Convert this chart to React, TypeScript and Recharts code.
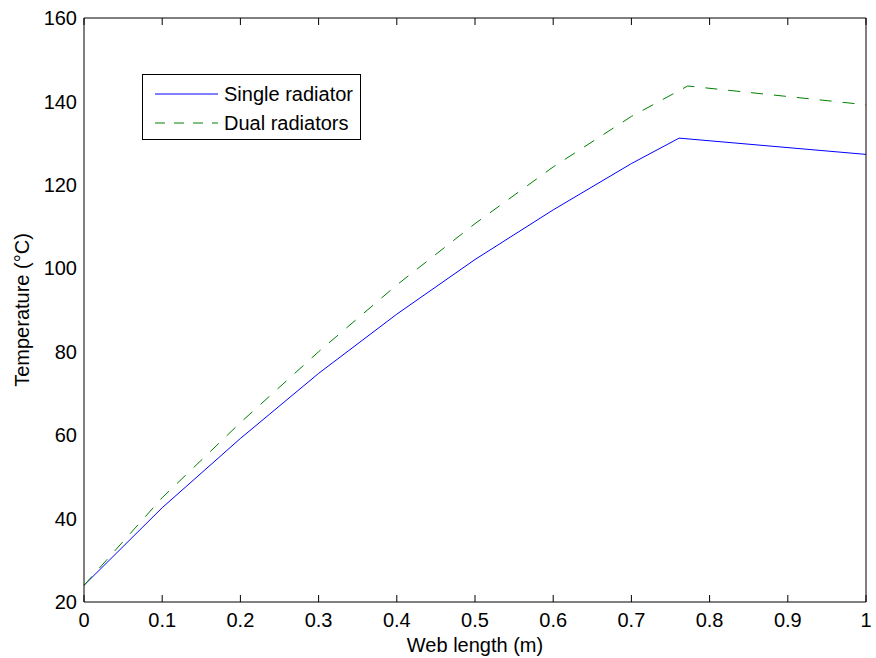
import React from "react";
import { LineChart, Line, XAxis, YAxis, Legend } from "recharts";

// web position (m) and temperature (°C)
const singleX = [0, 0.1, 0.2, 0.3, 0.4, 0.5, 0.6, 0.7, 0.761, 1];
const singleT = [24, 42.6, 59.2, 74.8, 89, 102.1, 114, 125.1, 131.2, 127.3];
const dualX = [0, 0.1, 0.2, 0.3, 0.4, 0.5, 0.6, 0.7, 0.772, 1];
const dualT = [24, 45, 63, 80, 96, 110.7, 124.3, 136.4, 143.7, 139.2];

const xTicks = [0, 0.1, 0.2, 0.3, 0.4, 0.5, 0.6, 0.7, 0.8, 0.9, 1];
const yTicks = [20, 40, 60, 80, 100, 120, 140, 160];

// one table for the chart, gaps bridged with connectNulls
const allX = Array.from(new Set([...singleX, ...dualX])).sort((a, b) => a - b);
const table = allX.map((x) => ({
  x,
  single: singleT[singleX.indexOf(x)] ?? null,
  dual: dualT[dualX.indexOf(x)] ?? null,
}));

const font = "'Liberation Sans', Arial, sans-serif";
const fs = 20;

const LegendBox = () => (
  <div
    style={{
      width: 217,
      height: 64,
      border: "1px solid #000",
      background: "#fff",
      position: "relative",
    }}
  >
    <svg width={217} height={64} style={{ position: "absolute", left: 0, top: 0 }}>
      <line x1={12} x2={75} y1={19} y2={19} stroke="#0000ff" strokeWidth={1} />
      <line x1={12} x2={75} y1={48} y2={48} stroke="#008000" strokeWidth={1} strokeDasharray="10 9" />
      <text x={81} y={19} dominantBaseline="central" fontSize={fs} fontFamily={font} fill="#000">
        Single radiator
      </text>
      <text x={81} y={48} dominantBaseline="central" fontSize={fs} fontFamily={font} fill="#000">
        Dual radiators
      </text>
    </svg>
  </div>
);

const App = () => {
  const tickStyle = { fill: "#000", fontSize: fs, fontFamily: font };
  const blank = () => "";
  return (
    <div style={{ position: "absolute", left: 0, top: 0, background: "#fff" }}>
      <LineChart
        width={876}
        height={658}
        data={table}
        margin={{ top: 18, right: 10, left: 0, bottom: 0 }}
        style={{ fontFamily: font }}
      >
        {/* labelled axes */}
        <XAxis
          xAxisId="b"
          type="number"
          dataKey="x"
          domain={[0, 1]}
          ticks={xTicks}
          height={56}
          tickLine={false}
          tickSize={0}
          tickMargin={11}
          tick={tickStyle}
          stroke="#000"
          interval={0}
          label={{
            content: () => (
              <text x={475} y={652} textAnchor="middle" fontSize={fs} fontFamily={font} fill="#000">
                Web length (m)
              </text>
            ),
          }}
        />
        <YAxis
          yAxisId="l"
          type="number"
          domain={[20, 160]}
          ticks={yTicks}
          width={84}
          tickLine={false}
          tickSize={0}
          tickMargin={7}
          tick={tickStyle}
          stroke="#000"
          interval={0}
          label={{
            content: () => (
              <text
                x={22}
                y={310}
                transform="rotate(-90 22 310)"
                textAnchor="middle"
                dominantBaseline="central"
                fontSize={fs}
                fontFamily={font}
                fill="#000"
              >
                Temperature (°C)
              </text>
            ),
          }}
        />
        {/* inward ticks on all four sides of the box */}
        <XAxis
          xAxisId="bm"
          type="number"
          dataKey="x"
          domain={[0, 1]}
          ticks={xTicks}
          mirror
          height={1}
          tickSize={7}
          tickFormatter={blank}
          axisLine={false}
          stroke="#000"
          interval={0}
        />
        <XAxis
          xAxisId="t"
          orientation="top"
          type="number"
          dataKey="x"
          domain={[0, 1]}
          ticks={xTicks}
          mirror
          height={1}
          tickSize={7}
          tickFormatter={blank}
          stroke="#000"
          interval={0}
        />
        <YAxis
          yAxisId="lm"
          type="number"
          domain={[20, 160]}
          ticks={yTicks}
          mirror
          width={1}
          tickSize={7}
          tickFormatter={blank}
          axisLine={false}
          stroke="#000"
          interval={0}
        />
        <YAxis
          yAxisId="r"
          orientation="right"
          type="number"
          domain={[20, 160]}
          ticks={yTicks}
          mirror
          width={1}
          tickSize={7}
          tickFormatter={blank}
          stroke="#000"
          interval={0}
        />
        <Line
          xAxisId="b"
          yAxisId="l"
          dataKey="single"
          name="Single radiator"
          stroke="#0000ff"
          strokeWidth={1}
          dot={false}
          type="linear"
          connectNulls
          isAnimationActive={false}
        />
        <Line
          xAxisId="b"
          yAxisId="l"
          dataKey="dual"
          name="Dual radiators"
          stroke="#008000"
          strokeWidth={1}
          strokeDasharray="12 11"
          dot={false}
          type="linear"
          connectNulls
          isAnimationActive={false}
        />
        <Legend
          layout="vertical"
          align="center"
          verticalAlign="middle"
          content={() => <LegendBox />}
          wrapperStyle={{ left: 142, top: 74, width: 219, height: 66 }}
        />
      </LineChart>
    </div>
  );
};

export default App;
